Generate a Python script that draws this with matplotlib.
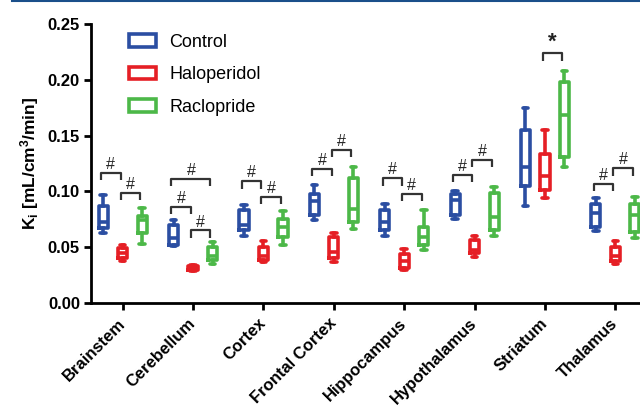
import numpy as np
import matplotlib
matplotlib.use("Agg")
import matplotlib.pyplot as plt
from matplotlib.patches import Patch
from matplotlib.lines import Line2D

# ---------------------------------
# Datos
# ---------------------------------
regiones = ["Brainstem", "Cerebellum", "Cortex", "Frontal Cortex",
            "Hippocampus", "Hypothalamus", "Striatum", "Thalamus"]
grupos = ["Control", "Haloperidol", "Raclopride"]

# estadísticas de caja: bigote inferior, Q1, mediana, Q3, bigote superior
ctrl_lo  = [0.063, 0.051, 0.060, 0.0745, 0.060, 0.075, 0.087, 0.0645]
ctrl_q1  = [0.0675, 0.052, 0.0655, 0.079, 0.065, 0.079, 0.105, 0.068]
ctrl_med = [0.073, 0.058, 0.070, 0.091, 0.073, 0.092, 0.122, 0.081]
ctrl_q3  = [0.087, 0.070, 0.083, 0.098, 0.083, 0.0977, 0.155, 0.089]
ctrl_hi  = [0.097, 0.074, 0.088, 0.106, 0.0887, 0.1006, 0.1745, 0.0938]

halo_lo  = [0.038, 0.029, 0.037, 0.037, 0.030, 0.041, 0.094, 0.0347]
halo_q1  = [0.040, 0.030, 0.0385, 0.040, 0.0314, 0.0445, 0.101, 0.038]
halo_med = [0.045, 0.031, 0.042, 0.046, 0.038, 0.0475, 0.114, 0.042]
halo_q3  = [0.049, 0.033, 0.0505, 0.0595, 0.044, 0.0565, 0.1335, 0.0505]
halo_hi  = [0.052, 0.034, 0.0555, 0.063, 0.0484, 0.060, 0.155, 0.0555]

racl_lo  = [0.053, 0.035, 0.052, 0.066, 0.0475, 0.060, 0.1216, 0.0585]
racl_q1  = [0.063, 0.0385, 0.0595, 0.073, 0.052, 0.0655, 0.1305, 0.064]
racl_med = [0.074, 0.042, 0.068, 0.084, 0.0595, 0.077, 0.1685, 0.079]
racl_q3  = [0.078, 0.0505, 0.075, 0.112, 0.068, 0.099, 0.198, 0.0887]
racl_hi  = [0.085, 0.055, 0.0825, 0.122, 0.083, 0.104, 0.208, 0.095]

# corchetes de significancia: región, grupo a, grupo b, altura, símbolo
sig_region = [0, 0, 1, 1, 1, 2, 2, 3, 3, 4, 4, 5, 5, 6, 7, 7]
sig_a      = [0, 1, 0, 0, 1, 0, 1, 0, 1, 0, 1, 0, 1, 1, 0, 1]
sig_b      = [1, 2, 2, 1, 2, 1, 2, 1, 2, 1, 2, 1, 2, 2, 1, 2]
sig_y      = [0.1167, 0.099, 0.111, 0.0863, 0.065, 0.109, 0.0953, 0.120,
              0.137, 0.1117, 0.0977, 0.1147, 0.128, 0.2237, 0.107, 0.1207]
sig_txt    = ["#"] * 13 + ["*"] + ["#"] * 2

# ---------------------------------
# Estilo
# ---------------------------------
plt.rcParams["font.family"] = ["Liberation Sans", "DejaVu Sans"]
plt.rcParams["mathtext.fontset"] = "custom"
plt.rcParams["mathtext.rm"] = "Liberation Sans:bold"
plt.rcParams["mathtext.default"] = "rm"

colores = ["#2b4ea2", "#e51f25", "#4cb848"]
LW = 2.6
OFFSET = 0.277
ANCHO = 0.13

fig = plt.figure(figsize=(6.4, 4.07), dpi=100)
ax = fig.add_axes([91/640, 1 - 303/407, 1 - 91/640, (303 - 24)/407])

stats_grupos = [
    (ctrl_lo, ctrl_q1, ctrl_med, ctrl_q3, ctrl_hi),
    (halo_lo, halo_q1, halo_med, halo_q3, halo_hi),
    (racl_lo, racl_q1, racl_med, racl_q3, racl_hi),
]

x = np.arange(len(regiones))
for g, (lo, q1, med, q3, hi) in enumerate(stats_grupos):
    st = [dict(whislo=lo[i], q1=q1[i], med=med[i], q3=q3[i], whishi=hi[i], fliers=[])
          for i in range(len(regiones))]
    c = colores[g]
    ax.bxp(st, positions=x + (g - 1) * OFFSET, widths=ANCHO, capwidths=0.08,
           showfliers=False, manage_ticks=False,
           boxprops=dict(color=c, linewidth=LW),
           whiskerprops=dict(color=c, linewidth=LW),
           capprops=dict(color=c, linewidth=LW, solid_capstyle="round"),
           medianprops=dict(color=c, linewidth=LW))

# corchetes
for r, a, b, h, t in zip(sig_region, sig_a, sig_b, sig_y, sig_txt):
    x1 = r + (a - 1) * OFFSET - 0.03
    x2 = r + (b - 1) * OFFSET - 0.03
    ax.plot([x1, x1, x2, x2], [h - 0.0065, h, h, h - 0.0065],
            color="#333333", lw=1.6, solid_capstyle="butt")
    if t == "*":
        ax.text((x1 + x2) / 2, h + 0.0005, t, ha="center", va="bottom",
                fontsize=16, fontweight="bold", color="#222222")
    else:
        ax.text((x1 + x2) / 2, h + 0.0008, t, ha="center", va="bottom",
                fontsize=11.5, color="#222222")

# ejes
ax.set_xlim(-0.45, 7.35)
ax.set_ylim(0, 0.25)
ax.set_yticks(np.arange(0, 0.251, 0.05))
ax.set_yticklabels([f"{v:.2f}" for v in np.arange(0, 0.251, 0.05)],
                   fontsize=12, fontweight="bold")
ax.set_xticks(x)
ax.set_xticklabels(regiones, rotation=45, ha="right", va="center",
                   rotation_mode="anchor", fontsize=12, fontweight="bold")
ax.tick_params(axis="both", direction="out", length=5, width=2, pad=3)
ax.tick_params(axis="x", pad=8)
for s in ["top", "right"]:
    ax.spines[s].set_visible(False)
for s in ["left", "bottom"]:
    ax.spines[s].set_linewidth(2)
ax.set_ylabel(r"K$_{\mathrm{i}}$ [mL/cm$^{\mathrm{3}}$/min]", fontsize=12.5,
              fontweight="bold", labelpad=5)

# leyenda
handles = [Patch(facecolor="white", edgecolor=c, linewidth=LW) for c in colores]
fig.legend(handles, grupos, loc="upper left",
           bbox_to_anchor=(129/640, 1 - 34/407), frameon=False, fontsize=13,
           handlelength=1.5, handleheight=0.7, handletextpad=0.75,
           labelspacing=0.85, borderpad=0, borderaxespad=0)

# línea azul superior
fig.add_artist(Line2D([12/640, 1], [1 - 0.8/407] * 2, color="#1a4f8a", lw=1.5))

fig.savefig("out.png", dpi=100)
